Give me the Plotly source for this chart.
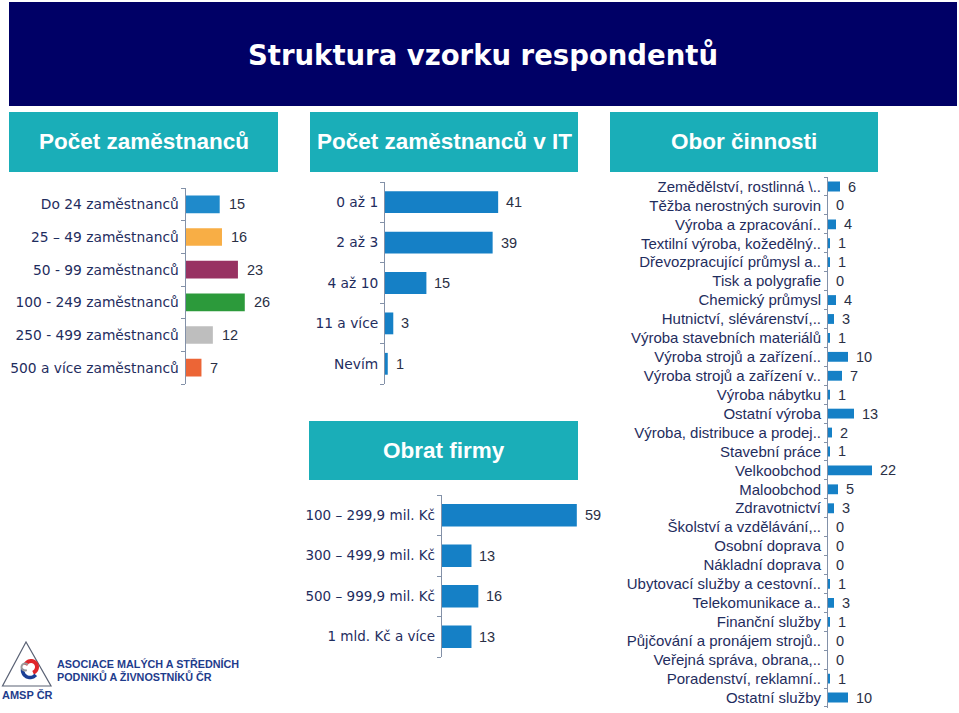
import math
import plotly.graph_objects as go

W, H = 959, 713

# ---------------- data ----------------
emp_categories = ["Do 24 zaměstnanců", "25 – 49 zaměstnanců", "50 - 99 zaměstnanců",
                  "100 - 249 zaměstnanců", "250 - 499 zaměstnanců", "500 a více zaměstnanců"]
emp_values = [15, 16, 23, 26, 12, 7]
emp_colors = ["#1F8ACB", "#F8AE45", "#983262", "#2C9A3B", "#BEBEBE", "#EC6536"]

it_categories = ["0 až 1", "2 až 3", "4 až 10", "11 a více", "Nevím"]
it_values = [41, 39, 15, 3, 1]

turnover_categories = ["100 – 299,9 mil. Kč", "300 – 499,9 mil. Kč",
                       "500 – 999,9 mil. Kč", "1 mld. Kč a více"]
turnover_values = [59, 13, 16, 13]

sector_categories = [
    "Zemědělství, rostlinná \\..", "Těžba nerostných surovin", "Výroba a zpracování..",
    "Textilní výroba, kožedělný..", "Dřevozpracující průmysl a..", "Tisk a polygrafie",
    "Chemický průmysl", "Hutnictví, slévárenství,..", "Výroba stavebních materiálů",
    "Výroba strojů a zařízení..", "Výroba strojů a zařízení v..", "Výroba nábytku",
    "Ostatní výroba", "Výroba, distribuce a prodej..", "Stavební práce", "Velkoobchod",
    "Maloobchod", "Zdravotnictví", "Školství a vzdělávání,..", "Osobní doprava",
    "Nákladní doprava", "Ubytovací služby a cestovní..", "Telekomunikace a..",
    "Finanční služby", "Půjčování a pronájem strojů..", "Veřejná správa, obrana,..",
    "Poradenství, reklamní..", "Ostatní služby"]
sector_values = [6, 0, 4, 1, 1, 0, 4, 3, 1, 10, 7, 1, 13, 2, 1, 22, 5, 3, 0, 0, 0, 1, 3, 1, 0, 0, 1, 10]

title_text = "Struktura vzorku respondentů"
panel_titles = ["Počet zaměstnanců", "Počet zaměstnanců v IT", "Obor činnosti", "Obrat firmy"]
logo_lines = ["ASOCIACE MALÝCH A STŘEDNÍCH", "PODNIKŮ A ŽIVNOSTNÍKŮ ČR"]
logo_short = "AMSP ČR"

# ---------------- styling ----------------
NAVY = "#000066"
TEAL = "#1AAEB8"
BLUE = "#1580C6"
LABEL = "#1F2D5E"
AXIS = "#8391A8"
FONT = "Liberation Sans, Arial, sans-serif"
WIDE = "DejaVu Sans, Verdana, sans-serif"


def X(px):
    return px / W


def Y(py):
    return 1 - py / H


fig = go.Figure()

panels = [
    dict(cats=emp_categories, vals=emp_values, color=emp_colors, x0=185.5, scale=2.28, x1=300,
         top=188, bottom=384, width=0.54, lfont=WIDE, fsize=13.8, vsize=14.5, shift=7, ticklen=4),
    dict(cats=it_categories, vals=it_values, color=BLUE, x0=385, scale=2.76, x1=580,
         top=182, bottom=384, width=0.54, lfont=WIDE, fsize=13.8, vsize=14.5, shift=6, ticklen=4),
    dict(cats=turnover_categories, vals=turnover_values, color=BLUE, x0=441.7, scale=2.29, x1=610,
         top=495, bottom=657, width=0.56, lfont=WIDE, fsize=13.5, vsize=14.5, shift=6, ticklen=4),
    dict(cats=sector_categories, vals=sector_values, color=BLUE, x0=828, scale=2.0, x1=955,
         top=176.5, bottom=707.5, width=0.52, lfont=FONT, fsize=15, vsize=14.5, shift=6, ticklen=3),
]

annotations = []
for i, p in enumerate(panels, start=1):
    xa = "x" if i == 1 else f"x{i}"
    ya = "y" if i == 1 else f"y{i}"
    fig.add_trace(go.Bar(
        x=p["vals"], y=p["cats"], orientation="h", xaxis=xa, yaxis=ya,
        marker=dict(color=p["color"], line=dict(width=0)), width=p["width"],
        showlegend=False, hoverinfo="x+y"))
    rng = (p["x1"] - p["x0"]) / p["scale"]
    fig.update_layout(**{
        ("xaxis" if i == 1 else f"xaxis{i}"): dict(
            domain=[X(p["x0"]), X(p["x1"])], range=[0, rng], visible=False,
            anchor=ya, fixedrange=True),
        ("yaxis" if i == 1 else f"yaxis{i}"): dict(
            domain=[Y(p["bottom"]), Y(p["top"])], anchor=xa, type="category",
            autorange="reversed", showline=True, linecolor=AXIS, linewidth=1,
            ticks="outside", tickson="boundaries", ticklen=p["ticklen"], tickcolor=AXIS,
            tickmode="array", tickvals=p["cats"], ticktext=p["cats"],
            showgrid=False, zeroline=False, ticklabelstandoff=3,
            tickfont=dict(family=p["lfont"], size=p["fsize"], color=LABEL), fixedrange=True),
    })
    for c, v in zip(p["cats"], p["vals"]):
        annotations.append(dict(
            x=v, y=c, xref=xa, yref=ya, text=str(v), showarrow=False,
            xanchor="left", yanchor="middle", xshift=p["shift"],
            font=dict(family=FONT, size=p["vsize"], color="#2A2F45")))

shapes = []
# header
shapes.append(dict(type="rect", xref="paper", yref="paper", x0=X(9), x1=X(957), y0=Y(106), y1=Y(2),
                   fillcolor=NAVY, line=dict(width=0), layer="below"))
annotations.append(dict(x=X(483), y=Y(55), xref="paper", yref="paper", text=f"<b>{title_text}</b>",
                        showarrow=False, xanchor="center", yanchor="middle",
                        font=dict(family=WIDE, size=27.5, color="white")))

# teal section headers
boxes = [(9, 278, 112, 172), (310, 578, 112, 172), (610, 878, 112, 172), (309, 578, 421, 480)]
for (bx0, bx1, by0, by1), t in zip(boxes, panel_titles):
    shapes.append(dict(type="rect", xref="paper", yref="paper", x0=X(bx0), x1=X(bx1), y0=Y(by1), y1=Y(by0),
                       fillcolor=TEAL, line=dict(width=0), layer="below"))
    annotations.append(dict(x=X((bx0 + bx1) / 2), y=Y((by0 + by1) / 2), xref="paper", yref="paper",
                            text=f"<b>{t}</b>", showarrow=False, xanchor="center", yanchor="middle",
                            font=dict(family=FONT, size=22.5, color="white")))


# logo
def poly(points):
    return "M " + " L ".join(f"{X(a):.5f},{Y(b):.5f}" for a, b in points) + " Z"


def arc(cx, cy, r, a0, a1, n=24):
    pts = []
    for k in range(n + 1):
        a = math.radians(a0 + (a1 - a0) * k / n)
        pts.append((cx + r * math.cos(a), cy - r * math.sin(a)))
    return "M " + " L ".join(f"{X(a):.5f},{Y(b):.5f}" for a, b in pts)


shapes.append(dict(type="path", xref="paper", yref="paper",
                   path=poly([(26, 642), (2.5, 686), (51, 686)]),
                   line=dict(color="#5A6275", width=1.2), fillcolor="rgba(0,0,0,0)"))
shapes.append(dict(type="path", xref="paper", yref="paper", path=arc(31, 667, 6, 160, -70),
                   line=dict(color="#E0262B", width=4)))
shapes.append(dict(type="path", xref="paper", yref="paper", path=arc(30, 670, 7.5, 170, 320),
                   line=dict(color="#1B3F95", width=3.5)))
shapes.append(dict(type="path", xref="paper", yref="paper", path=arc(25, 667, 3.5, 40, 300),
                   line=dict(color="#9A9A9A", width=2)))

annotations.append(dict(x=X(27), y=Y(695), xref="paper", yref="paper", text=f"<b>{logo_short}</b>",
                        showarrow=False, xanchor="center", yanchor="middle",
                        font=dict(family=FONT, size=11, color="#1E3C8C")))
for line, py in zip(logo_lines, [664, 676]):
    annotations.append(dict(x=X(55), y=Y(py), xref="paper", yref="paper", text=f"<b>{line}</b>",
                            showarrow=False, xanchor="left", yanchor="middle",
                            font=dict(family=FONT, size=10.8, color="#1E3C8C")))

fig.update_layout(
    width=W, height=H, margin=dict(l=0, r=0, t=0, b=0),
    paper_bgcolor="white", plot_bgcolor="rgba(0,0,0,0)",
    shapes=shapes, annotations=annotations, bargap=0.4,
    font=dict(family=FONT, color=LABEL),
)

fig.write_html("out.html", config={"displayModeBar": False},
               post_script="document.body.style.margin='0';")
